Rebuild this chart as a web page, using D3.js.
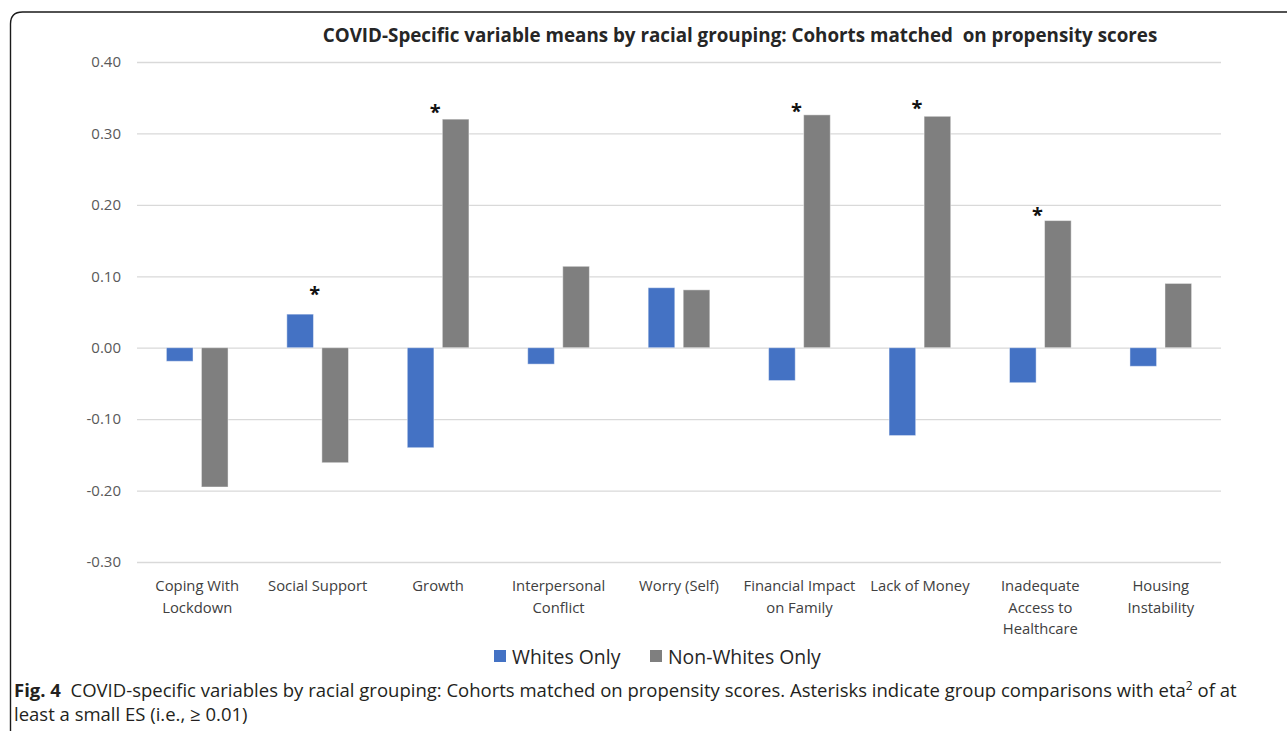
<!DOCTYPE html>
<html>
<head>
<meta charset="utf-8">
<script src="https://cdn.jsdelivr.net/npm/d3@7"></script>
<style>
  html, body { margin: 0; padding: 0; background: #fff; }
  svg { display: block; }
  text { font-family: "Open Sans", "Noto Sans", sans-serif; }
</style>
</head>
<body>
<svg id="chart" width="1287" height="731"></svg>
<script>
// ---- data ----
const categories = [
  ["Coping With", "Lockdown"],
  ["Social Support"],
  ["Growth"],
  ["Interpersonal", "Conflict"],
  ["Worry (Self)"],
  ["Financial Impact", "on Family"],
  ["Lack of Money"],
  ["Inadequate", "Access to", "Healthcare"],
  ["Housing", "Instability"]
];
const seriesNames = ["Whites Only", "Non-Whites Only"];
const whitesOnly    = [-0.019, 0.047, -0.140, -0.023, 0.084, -0.046, -0.123, -0.049, -0.026];
const nonWhitesOnly = [-0.195, -0.161, 0.320, 0.114, 0.081, 0.326, 0.324, 0.178, 0.090];
// categories flagged with an asterisk, and the height (in data units) of the mark
const starCategories = [1, 2, 5, 6, 7];
const starLevels     = [0.082, 0.337, 0.338, 0.342, 0.193];
const yTicks = [0.40, 0.30, 0.20, 0.10, 0.00, -0.10, -0.20, -0.30];

const colors = ["#4472C4", "#7F7F7F"];
const titleText = "COVID-Specific variable means by racial grouping: Cohorts matched\u00A0 on propensity scores";

// ---- layout ----
const svg = d3.select("#chart");
const plot = { left: 137, right: 1221, top: 62, bottom: 562 };

const idx = d3.range(categories.length);
const x = d3.scaleBand().domain(idx).range([plot.left, plot.right]).paddingInner(0.488).paddingOuter(0.244);
const xInner = d3.scaleBand().domain([0, 1]).range([0, x.bandwidth()]).paddingInner(0.24);
const y = d3.scaleLinear().domain([-0.30, 0.40]).range([plot.bottom, plot.top]);

// outer frame (rounded top-left corner)
svg.append("path")
  .attr("d", "M10.5,731 L10.5,24 Q10.5,12 22.5,12 L1287,12")
  .attr("fill", "none").attr("stroke", "#1a1a1a").attr("stroke-width", 1.4);

// title
svg.append("text")
  .attr("x", 740).attr("y", 42)
  .attr("text-anchor", "middle")
  .attr("font-weight", "bold").attr("font-size", 18.8)
  .attr("fill", "#262626")
  .text(titleText);

// gridlines + y axis (plain hyphen for negatives)
const fmt = d3.format(".2f");
const yAxis = d3.axisLeft(y).tickValues(yTicks).tickFormat(d => fmt(d).replace("\u2212", "-"))
  .tickSize(-(plot.right - plot.left)).tickPadding(16);
const gy = svg.append("g").attr("transform", `translate(${plot.left},0)`).call(yAxis);
gy.select(".domain").remove();
gy.selectAll(".tick line").attr("stroke", "#D9D9D9").attr("stroke-width", 1.3);
gy.selectAll(".tick text").attr("fill", "#595959").attr("font-size", 15)
  .style("font-family", "'Open Sans', sans-serif");

// bars
const series = [whitesOnly, nonWhitesOnly];
series.forEach((vals, s) => {
  svg.append("g").selectAll("rect").data(vals).join("rect")
    .attr("x", (d, i) => x(i) + xInner(s))
    .attr("width", xInner.bandwidth())
    .attr("y", d => y(Math.max(0, d)))
    .attr("height", d => Math.abs(y(d) - y(0)))
    .attr("fill", colors[s])
    .attr("stroke", "#ffffff").attr("stroke-opacity", 0.45).attr("stroke-width", 1);
});

// asterisks
svg.append("g").selectAll("text").data(starCategories).join("text")
  .attr("x", (c) => x(c) + x.bandwidth() / 2 - 3)
  .attr("y", (c, i) => y(starLevels[i]) + 12)
  .attr("text-anchor", "middle")
  .attr("font-weight", "bold").attr("font-size", 20)
  .attr("fill", "#111")
  .text("*");

// category labels
const gx = svg.append("g");
categories.forEach((lines, i) => {
  const t = gx.append("text")
    .attr("x", x(i) + x.bandwidth() / 2)
    .attr("y", 591)
    .attr("text-anchor", "middle")
    .attr("font-size", 14.8).attr("fill", "#404040");
  lines.forEach((ln, k) => {
    t.append("tspan").attr("x", x(i) + x.bandwidth() / 2).attr("dy", k === 0 ? 0 : 21.5).text(ln);
  });
});

// legend
const legend = svg.append("g");
const legendX = [494, 650];
seriesNames.forEach((name, s) => {
  legend.append("rect").attr("x", legendX[s]).attr("y", 650).attr("width", 12).attr("height", 12)
    .attr("fill", colors[s]);
  legend.append("text").attr("x", legendX[s] + 18).attr("y", 663.5)
    .attr("font-size", 19.4).attr("fill", "#262626").text(name);
});

// figure caption
const cap1 = svg.append("text").attr("x", 14).attr("y", 697).attr("font-size", 17).attr("fill", "#231f20");
cap1.append("tspan").attr("font-weight", "bold").text("Fig. 4");
cap1.append("tspan").text("\u00A0\u00A0COVID-specific variables by racial grouping: Cohorts matched on propensity scores. Asterisks indicate group comparisons with eta");
cap1.append("tspan").attr("font-size", 11).attr("dy", -7).text("2");
cap1.append("tspan").attr("dy", 7).text(" of at");

const cap2 = svg.append("text").attr("x", 14).attr("y", 721).attr("font-size", 17).attr("fill", "#231f20")
  .text("least a small ES (i.e., \u2265 0.01)");

// fit caption lines to their printed widths
function fitWidth(sel, target) {
  const w = sel.node().getComputedTextLength();
  const fs = parseFloat(sel.attr("font-size"));
  sel.attr("font-size", fs * target / w);
}
fitWidth(cap1, 1223);
cap1.selectAll("tspan").filter(function(){ return d3.select(this).attr("font-size"); })
  .attr("font-size", parseFloat(cap1.attr("font-size")) * 0.65);
cap2.attr("font-size", cap1.attr("font-size"));
</script>
</body>
</html>
